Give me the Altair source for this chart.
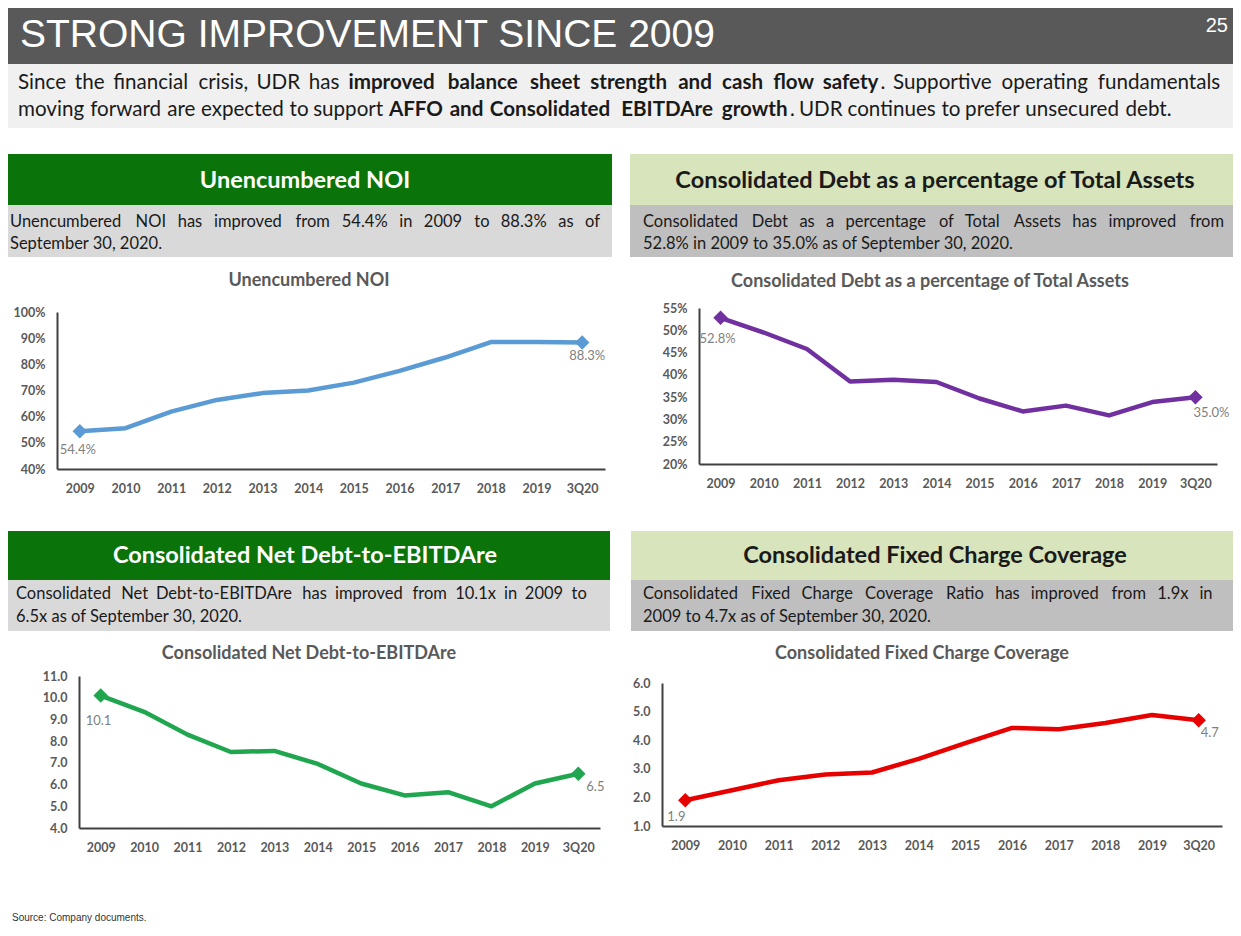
import altair as alt
import pandas as pd

# ---------------- data ----------------
CATS = ["2009", "2010", "2011", "2012", "2013", "2014", "2015", "2016", "2017", "2018", "2019", "3Q20"]
NOI = [54.4, 55.6, 61.9, 66.4, 69.0, 70.0, 73.0, 77.5, 82.6, 88.5, 88.5, 88.3]
DEBT = [52.8, 49.5, 45.8, 38.5, 38.9, 38.4, 34.7, 31.8, 33.1, 30.9, 33.9, 35.0]
NDE = [10.1, 9.35, 8.3, 7.5, 7.55, 6.95, 6.05, 5.5, 5.65, 5.0, 6.05, 6.5]
FCC = [1.9, 2.25, 2.6, 2.8, 2.87, 3.35, 3.9, 4.43, 4.38, 4.6, 4.88, 4.7]

NOI_TICKS = [40, 50, 60, 70, 80, 90, 100]
DEBT_TICKS = [20, 25, 30, 35, 40, 45, 50, 55]
NDE_TICKS = [4, 5, 6, 7, 8, 9, 10, 11]
FCC_TICKS = [1, 2, 3, 4, 5, 6]

TITLE = "STRONG IMPROVEMENT SINCE 2009"
PAGE = "25"
SOURCE = "Source:  Company documents."

OX, OY = 8, 8
W, H = 1225, 918
FONT = "Lato"
DUMMY = alt.Data(values=[{"k": 0}])

# rough advance widths (em) of Lato, used only to spread justified words
CW = {" ": 0.2, "a": 0.51, "b": 0.56, "c": 0.46, "d": 0.56, "e": 0.52, "f": 0.32, "g": 0.50,
      "h": 0.56, "i": 0.24, "j": 0.24, "k": 0.50, "l": 0.24, "m": 0.84, "n": 0.56, "o": 0.56,
      "p": 0.56, "q": 0.56, "r": 0.36, "s": 0.42, "t": 0.35, "u": 0.56, "v": 0.50, "w": 0.76,
      "x": 0.49, "y": 0.50, "z": 0.45, "A": 0.68, "B": 0.64, "C": 0.68, "D": 0.74, "E": 0.56,
      "F": 0.54, "G": 0.73, "H": 0.75, "I": 0.28, "J": 0.39, "K": 0.66, "L": 0.50, "M": 0.90,
      "N": 0.75, "O": 0.80, "P": 0.60, "Q": 0.80, "R": 0.63, "S": 0.52, "T": 0.59, "U": 0.72,
      "V": 0.68, "W": 1.0, "X": 0.66, "Y": 0.62, "Z": 0.62, ".": 0.22, ",": 0.22, "%": 0.77,
      "-": 0.37}


def wlen(s, size, weight):
    f = 1.03 * (1.04 if weight == "bold" else 1.0)
    return sum(CW.get(ch, 0.58) for ch in s) * size * f


def box(x1, x2, y1, y2, color):
    return alt.Chart(DUMMY).mark_rect(color=color).encode(
        x=alt.value(x1 - OX), x2=alt.value(x2 - OX),
        y=alt.value(y1 - OY), y2=alt.value(y2 - OY))


def label(s, x, y, size, color="#1a1a1a", weight="normal", font=FONT,
          align="left", baseline="middle"):
    return alt.Chart(DUMMY).mark_text(
        text=s, font=font, fontSize=size, fontWeight=weight, color=color,
        align=align, baseline=baseline).encode(
        x=alt.value(x - OX), y=alt.value(y - OY))


def words(text, weight="normal"):
    return [(w, weight, True) for w in text.split(" ")]


def place(items, x0, x1, y, size, just=True):
    """Lay out (word, weight, space_before) items on one line; justified if just."""
    widths = [wlen(t, size, wt) for t, wt, _ in items]
    gaps = max(sum(1 for it in items[1:] if it[2]), 1)
    sp = wlen(" ", size, "normal")
    g = (x1 - x0 - sum(widths)) / gaps if just else sp
    g = max(g, sp)
    out, x = [], x0
    for i, (t, wt, spb) in enumerate(items):
        if i > 0 and spb:
            x += g
        out.append(label(t, x, y, size, weight=wt))
        x += widths[i]
    return out


def line_panel(vals, color, ax, ex, yt, yb, dom, ticks, pct, off1, off2):
    labs = [(f"{v:.1f}%" if pct else f"{v:.1f}") for v in vals]
    df = pd.DataFrame({"cat": CATS, "val": vals, "lab": labs})
    xs = alt.Scale(type="point", domain=CATS, range=[ax - OX, ex - OX], padding=0.5)
    ys = alt.Scale(type="linear", domain=dom, range=[yb - OY, yt - OY], nice=False, zero=False)
    common = dict(title=None, ticks=False, grid=False, domainColor="#404040", domainWidth=2,
                  labelFont=FONT, labelFontSize=12.5, labelFontWeight="bold",
                  labelColor="#595959")
    xaxis = alt.Axis(orient="bottom", offset=(yb - OY) - H, labelPadding=13,
                     labelAngle=0, labelOverlap=False, **common)
    fmt = {"labelExpr": "datum.value + '%'"} if pct else {"format": ".1f"}
    yaxis = alt.Axis(orient="left", offset=-(ax - OX), values=ticks, labelPadding=12,
                     **fmt, **common)

    def X(a):
        return alt.X("cat:O", scale=xs, axis=a)

    def Y(a):
        return alt.Y("val:Q", scale=ys, axis=a)

    line = alt.Chart(df).mark_line(color=color, strokeWidth=4.5, strokeJoin="round",
                                   strokeCap="round").encode(x=X(xaxis), y=Y(yaxis))
    ends = alt.Chart(df.iloc[[0, len(df) - 1]]).mark_point(
        shape="diamond", filled=True, size=210, opacity=1, color=color).encode(x=X(None), y=Y(None))
    t1 = alt.Chart(df.iloc[[0]]).mark_text(
        align="left", baseline="middle", dx=off1[0], dy=off1[1], font=FONT, fontSize=13,
        color="#7f7f7f").encode(x=X(None), y=Y(None), text="lab:N")
    t2 = alt.Chart(df.iloc[[len(df) - 1]]).mark_text(
        align="left", baseline="middle", dx=off2[0], dy=off2[1], font=FONT, fontSize=13,
        color="#7f7f7f").encode(x=X(None), y=Y(None), text="lab:N")
    return [line, ends, t1, t2]


GREEN = "#0a730a"
LGREEN = "#d8e4bc"
GRAY1 = "#d9d9d9"
GRAY2 = "#bfbfbf"
TCOL = "#595959"
BT = 16.5   # body text size
HT = 23.5   # banner title size
CT = 18     # chart title size
PT = 20.6   # intro paragraph size

intro1 = (words("Since the financial crisis, UDR has")
          + words("improved balance sheet strength and cash flow safety", "bold")
          + [(".", "normal", False)]
          + words("Supportive operating fundamentals"))
intro2 = (words("moving forward are expected to support")
          + words("AFFO and Consolidated EBITDAre growth", "bold")
          + [(".", "normal", False)]
          + words("UDR continues to prefer unsecured debt."))

layers = [
    # header
    box(0, 1241, 0, 64, "#595959"),
    label(TITLE, 20, 47, 39, color="white", font="Liberation Sans", baseline="alphabetic"),
    label(PAGE, 1228, 32, 20, color="white", font="Liberation Sans", align="right",
          baseline="alphabetic"),
    box(0, 1241, 64, 128, "#f0f0f0"),
    *place(intro1, 18, 1224, 83, PT),
    *place(intro2, 18, 1224, 110, PT, just=False),

    # panel 1
    box(0, 612, 154, 205, GREEN),
    label("Unencumbered NOI", 305, 181, HT, color="white", weight="bold", align="center"),
    box(0, 612, 205, 257, GRAY1),
    *place(words("Unencumbered NOI has improved from 54.4% in 2009 to 88.3% as of"),
           10, 600, 222, BT),
    label("September 30, 2020.", 10, 244, BT),
    label("Unencumbered NOI", 309, 281, CT, color=TCOL, weight="bold", align="center"),

    # panel 2
    box(630, 1241, 154, 205, LGREEN),
    label("Consolidated Debt as a percentage of Total Assets", 935, 181, HT, weight="bold",
          align="center"),
    box(630, 1241, 205, 257, GRAY2),
    *place(words("Consolidated Debt as a percentage of Total Assets has improved from"),
           643, 1225, 222, BT),
    label("52.8% in 2009 to 35.0% as of September 30, 2020.", 643, 244, BT),
    label("Consolidated Debt as a percentage of Total Assets", 930, 282, CT, color=TCOL,
          weight="bold", align="center"),

    # panel 3
    box(0, 610, 531, 580, GREEN),
    label("Consolidated Net Debt-to-EBITDAre", 305, 556, HT, color="white", weight="bold",
          align="center"),
    box(0, 610, 580, 631, GRAY1),
    *place(words("Consolidated Net Debt-to-EBITDAre has improved from 10.1x in 2009 to"),
           16, 587, 594, BT),
    label("6.5x as of September 30, 2020.", 16, 617, BT),
    label("Consolidated Net Debt-to-EBITDAre", 309, 654, CT, color=TCOL, weight="bold",
          align="center"),

    # panel 4
    box(631, 1241, 531, 580, LGREEN),
    label("Consolidated Fixed Charge Coverage", 935, 556, HT, weight="bold", align="center"),
    box(631, 1241, 580, 631, GRAY2),
    *place(words("Consolidated Fixed Charge Coverage Ratio has improved from 1.9x in"),
           643, 1213, 594, BT),
    label("2009 to 4.7x as of September 30, 2020.", 643, 617, BT),
    label("Consolidated Fixed Charge Coverage", 922, 654, CT, color=TCOL, weight="bold",
          align="center"),

    # footer
    label(SOURCE, 12, 918, 10, color="#333333", font="Liberation Sans"),
]

layers += line_panel(NOI, "#5b9bd5", 57, 605, 312, 469, [40, 100], NOI_TICKS, True,
                     (-20, 19), (-13, 13))
layers += line_panel(DEBT, "#7030a0", 699, 1217, 308, 464, [20, 55], DEBT_TICKS, True,
                     (-21, 21), (-2, 16))
layers += line_panel(NDE, "#1fa64f", 79, 600, 676, 828, [4, 11], NDE_TICKS, False,
                     (-15, 25), (8, 13))
layers += line_panel(FCC, "#e60000", 662, 1222, 683, 826, [1, 6], FCC_TICKS, False,
                     (-18, 17), (2, 13))

chart = alt.layer(*layers).resolve_scale(
    x="independent", y="independent"
).resolve_axis(
    x="independent", y="independent"
).properties(
    width=W, height=H, padding=0, autosize="none"
).configure_view(stroke=None)

chart.save("out.html", embed_options={"renderer": "svg", "actions": False})
